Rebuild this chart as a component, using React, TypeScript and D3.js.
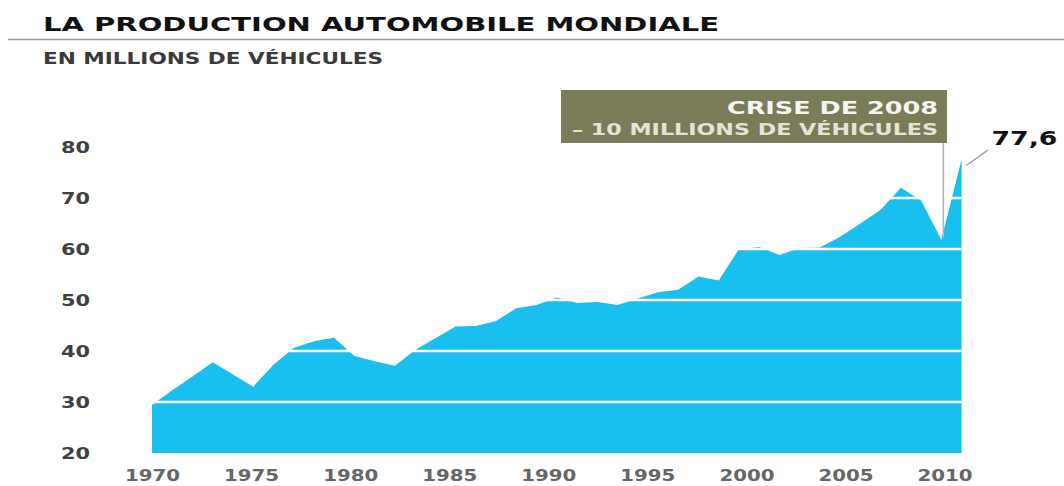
import React from "react";
import * as d3 from "d3";

const years = [
  1970, 1971, 1972, 1973, 1974, 1975, 1976, 1977, 1978, 1979,
  1980, 1981, 1982, 1983, 1984, 1985, 1986, 1987, 1988, 1989,
  1990, 1991, 1992, 1993, 1994, 1995, 1996, 1997, 1998, 1999,
  2000, 2001, 2002, 2003, 2004, 2005, 2006, 2007, 2008, 2009, 2010,
];
const production = [
  29.4, 32.3, 35.0, 37.8, 35.4, 33.0, 37.3, 40.6, 41.9, 42.6,
  39.0, 38.0, 37.1, 40.2, 42.5, 44.8, 44.9, 45.9, 48.4, 49.0,
  50.5, 49.4, 49.6, 49.0, 50.3, 51.5, 52.0, 54.6, 53.8, 60.0,
  60.4, 58.8, 60.2, 60.3, 62.4, 65.0, 67.7, 72.0, 69.5, 61.8, 77.6,
];
const yTicks = [20, 30, 40, 50, 60, 70, 80];
const gridValues = [30, 40, 50, 60, 70, 80];
const xTickYears = [1970, 1975, 1980, 1985, 1990, 1995, 2000, 2005, 2010];
const title = "LA PRODUCTION AUTOMOBILE MONDIALE";
const subtitle = "EN MILLIONS DE VÉHICULES";
const noteLine1 = "CRISE DE 2008";
const noteLine2 = "– 10 MILLIONS DE VÉHICULES";
const lastLabel = "77,6";

const FONT = "'DejaVu Sans', 'Open Sans', sans-serif";

export default function App() {
  const x = d3.scaleLinear().domain([1970, 2010]).range([152, 961.6]);
  const xLabel = d3.scaleLinear().domain([1970, 2010]).range([152.5, 945]);
  const y = d3.scaleLinear().domain([20, 80]).range([453, 147]);

  const data = years.map((yr, i) => ({ yr, v: production[i] }));
  const area = d3
    .area<{ yr: number; v: number }>()
    .x((d) => x(d.yr))
    .y0(y(20))
    .y1((d) => y(d.v));

  const dipX = x(2009) + 2;
  const lastX = x(2010);
  const lastY = y(77.6);

  return (
    <svg
      width={1064}
      height={486}
      style={{ position: "absolute", left: 0, top: 0, background: "#fff" }}
      fontFamily={FONT}
    >
      <rect x={0} y={0} width={1064} height={486} fill="#fff" />
      {/* Title */}
      <text
        x={43}
        y={30.5}
        fontSize={20}
        fontWeight="bold"
        fill="#111"
        textLength={676}
        lengthAdjust="spacingAndGlyphs"
      >
        {title}
      </text>
      <line x1={8} x2={1064} y1={39.5} y2={39.5} stroke="#9a9a9a" strokeWidth={1.5} />
      <text
        x={43}
        y={64}
        fontSize={15}
        fontWeight="bold"
        fill="#3a3a3a"
        textLength={340}
        lengthAdjust="spacingAndGlyphs"
      >
        {subtitle}
      </text>

      {/* Area */}
      <path d={area(data) || ""} fill="#19bfee" />
      {gridValues.map((g) => (
        <line
          key={g}
          x1={x(1970)}
          x2={x(2010)}
          y1={y(g)}
          y2={y(g)}
          stroke="#fff"
          strokeWidth={2.6}
        />
      ))}

      {/* Y axis labels */}
      {yTicks.map((t) => (
        <text
          key={t}
          x={90}
          y={y(t) + 5.5}
          fontSize={15}
          fontWeight="bold"
          fill="#404040"
          textAnchor="end"
          textLength={29}
          lengthAdjust="spacingAndGlyphs"
        >
          {t}
        </text>
      ))}

      {/* X axis labels */}
      {xTickYears.map((t) => (
        <text
          key={t}
          x={xLabel(t)}
          y={480.5}
          fontSize={16}
          fontWeight="bold"
          fill="#666"
          textAnchor="middle"
          textLength={55}
          lengthAdjust="spacingAndGlyphs"
        >
          {t}
        </text>
      ))}

      {/* Annotation */}
      <line x1={dipX} x2={dipX} y1={143} y2={y(61.8) - 3} stroke="#b3b3b3" strokeWidth={1.5} />
      <rect x={561} y={90} width={386} height={53} fill="#7a7c59" />
      <text
        x={938}
        y={113.5}
        fontSize={18}
        fontWeight="bold"
        fill="#f5f5ef"
        textAnchor="end"
        textLength={211}
        lengthAdjust="spacingAndGlyphs"
      >
        {noteLine1}
      </text>
      <text
        x={938}
        y={135}
        fontSize={15.5}
        fontWeight="600"
        fill="#e4e4d6"
        textAnchor="end"
        textLength={366}
        lengthAdjust="spacingAndGlyphs"
      >
        {noteLine2}
      </text>

      {/* Last value */}
      <line x1={lastX + 5} y1={lastY + 6} x2={988} y2={150} stroke="#9a9a9a" strokeWidth={1.5} />
      <text
        x={991.5}
        y={145}
        fontSize={20}
        fontWeight="bold"
        fill="#111"
        textLength={66}
        lengthAdjust="spacingAndGlyphs"
      >
        {lastLabel}
      </text>
    </svg>
  );
}
